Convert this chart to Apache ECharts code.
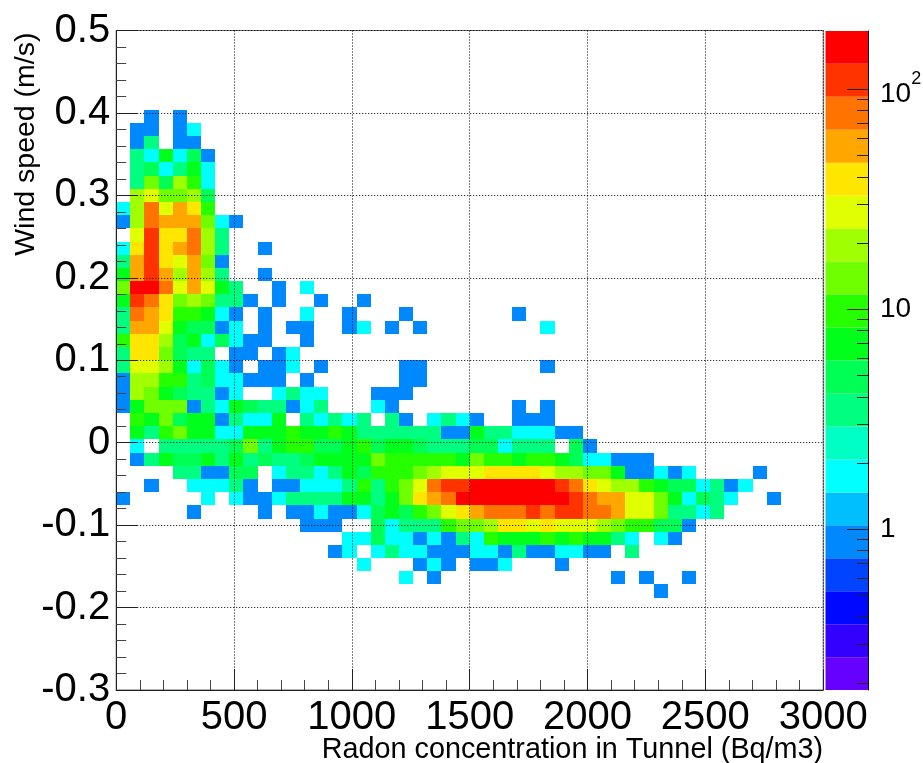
<!DOCTYPE html>
<html>
<head>
<meta charset="utf-8">
<style>html,body{margin:0;padding:0;background:#fff}#c{width:923px;height:763px}</style>
<script src="https://cdn.jsdelivr.net/npm/echarts@6/dist/echarts.min.js"></script>
</head>
<body>
<div id="c"></div>
<script>
// Histogram binning
const xRange = [0, 3000], yRange = [-0.3, 0.5];
const xBinWidth = 60, yBinWidth = 0.016, firstRowIndex = 6;
// Counts per x bin, one list per y row, from the top row (y≈0.40) downwards
const row06 = [0,0,1,0,1];
const row07 = [0,1,1,0,1,2];
const row08 = [0,1,3,0,1,1];
const row09 = [0,3,2,7,2,5,1];
const row10 = [0,3,5,2,3,7,2];
const row11 = [0,3,14,5,20,10,2];
const row12 = [0,20,28,14,14,20,5];
const row13 = [2,20,75,28,55,40,10];
const row14 = [1,20,75,55,55,55,14,2,1];
const row15 = [0,28,100,40,40,75,20,3];
const row16 = [2,40,100,40,55,75,20,3,0,0,1];
const row17 = [3,55,100,40,28,55,14,1];
const row18 = [7,55,100,55,20,55,20,3,0,0,1];
const row19 = [14,140,140,75,28,55,28,7,3,0,0,1,0,2];
const row20 = [7,100,75,40,14,20,14,3,3,1,0,1,0,0,1,0,0,1];
const row21 = [3,75,55,40,10,10,7,2,1,0,1,0,0,2,0,0,1,0,0,0,1,0,0,0,0,0,0,0,1];
const row22 = [3,55,55,28,7,5,5,1,2,0,1,0,1,1,0,0,1,2,0,1,0,1,0,0,0,0,0,0,0,0,2];
const row23 = [10,40,40,20,5,7,2,5,2,1,1,0,0,1];
const row24 = [3,40,40,14,5,3,3,0,1,1,0,1,2];
const row25 = [3,28,28,20,7,2,5,2,1,0,1,1,2,0,1,0,0,0,0,0,1,1,0,0,0,0,0,0,0,0,1];
const row26 = [1,20,20,10,10,3,5,2,2,1,1,1,0,1,0,0,0,0,0,0,1,1];
const row27 = [1,20,14,7,5,3,3,1,2,0,0,2,3,2,2,0,0,0,1,1,1];
const row28 = [1,7,14,14,14,1,3,2,7,5,3,3,1,2,3,0,0,0,2,1,0,0,0,0,0,0,0,0,1,0,1];
const row29 = [0,10,7,14,5,7,7,1,3,2,2,7,0,3,2,3,2,3,0,3,1,0,2,3,2,1,0,0,1,1,1];
const row30 = [0,7,3,10,14,7,7,2,2,7,7,7,10,7,7,10,7,3,3,3,3,3,3,1,1,7,3,3,2,2,2,1,1];
const row31 = [0,2,0,3,3,3,3,3,5,14,3,7,10,10,5,5,7,10,5,7,7,5,3,3,3,5,5,2,3,3,3,0,5,1];
const row32 = [0,1,3,7,5,5,7,3,7,3,5,3,3,5,7,7,7,7,14,10,10,10,10,10,7,14,10,10,7,10,10,7,5,2,2,1,1,1];
const row33 = [0,0,0,0,3,3,1,1,5,5,0,2,3,3,2,3,7,5,10,10,10,14,20,28,28,28,40,40,40,40,28,20,20,14,14,7,1,1,2,1,2,0,0,0,0,1];
const row34 = [0,0,1,0,0,2,2,2,3,1,0,1,1,2,2,2,3,10,3,10,14,28,75,100,100,140,140,140,140,140,140,100,75,40,28,20,20,10,7,5,5,2,3,1,2];
const row35 = [1,0,0,0,0,0,2,0,2,1,1,2,3,3,3,3,7,7,3,7,14,40,55,75,140,140,140,140,140,140,140,140,100,75,55,55,28,28,14,7,2,5,3,2,0,0,1];
const row36 = [0,0,0,0,0,1,0,0,0,0,1,0,1,1,2,1,1,2,5,7,5,10,14,28,40,55,75,75,75,100,75,100,100,75,75,55,28,28,14,3,3,2,3];
const row37 = [0,0,0,0,0,0,0,0,0,0,0,0,0,1,1,1,0,0,5,2,3,3,3,10,14,14,20,40,40,28,40,28,28,28,20,14,10,10,5,5,1];
const row38 = [0,0,0,0,0,0,0,0,0,0,0,0,0,0,0,0,2,2,5,2,2,1,2,1,3,2,10,7,7,7,10,7,10,7,7,3,2,0,2,1];
const row39 = [0,0,0,0,0,0,0,0,0,0,0,0,0,0,0,1,2,0,2,3,2,2,1,1,1,2,2,1,3,1,1,2,2,1,1,0,3];
const row40 = [0,0,0,0,0,0,0,0,0,0,0,0,0,0,0,0,0,2,0,0,0,1,2,1,0,1,1,2,0,0,0,1];
const row41 = [0,0,0,0,0,0,0,0,0,0,0,0,0,0,0,0,0,0,0,0,2,0,1,0,0,0,0,0,0,0,0,0,0,0,0,1,0,1,0,0,1];
const row42 = [0,0,0,0,0,0,0,0,0,0,0,0,0,0,0,0,0,0,0,0,0,0,0,0,0,0,0,0,0,0,0,0,0,0,0,0,0,0,1];
const rows = [row06,row07,row08,row09,row10,row11,row12,row13,row14,row15,row16,row17,row18,row19,row20,row21,row22,row23,row24,row25,row26,row27,row28,row29,row30,row31,row32,row33,row34,row35,row36,row37,row38,row39,row40,row41,row42];

// Colour scale: band edges (log spaced contour levels) and colours, low to high
const bandEdges = [0.186,0.262,0.370,0.523,0.738,1.042,1.471,2.077,2.933,4.141,5.848,8.26,11.66,16.46,23.25,32.8,46.4,65.5,92.4,130.5,184];
const bandColors = ['#6600ff','#3300ff','#0008ff','#0044ff','#0088ff','#00bfff','#00ffff','#00ffc4','#00ff80','#00ff55','#00ff1a','#26ff00','#6fff00','#a0ff00','#e0ff00','#ffe600','#ffa600','#ff7300','#ff3300','#ff0000'];
const xTickLabels = [0,500,1000,1500,2000,2500,3000];
const yTickLabels = [-0.3,-0.2,-0.1,0,0.1,0.2,0.3,0.4,0.5];
const zMajorTicks = [1,10,100];
const zMinorTicks = [0.2,0.3,0.4,0.5,0.6,0.7,0.8,0.9,2,3,4,5,6,7,8,9,20,30,40,50,60,70,80,90];

const font = 'Liberation Sans';
const cells = [];
rows.forEach((row, r) => row.forEach((count, c) => {
  if (count > 0) {
    cells.push([(c + 0.5) * xBinWidth, yRange[1] - (r + firstRowIndex + 0.5) * yBinWidth, count]);
  }
}));
function colorOf(v) {
  for (let i = 0; i < bandColors.length; i++) if (v < bandEdges[i + 1]) return bandColors[i];
  return bandColors[bandColors.length - 1];
}
const bandData = bandColors.map((col, i) => [bandEdges[i], bandEdges[i + 1], i]);

function renderCell(params, api) {
  const x = api.value(0), y = api.value(1);
  const p0 = api.coord([x - xBinWidth / 2, y + yBinWidth / 2]);
  const p1 = api.coord([x + xBinWidth / 2, y - yBinWidth / 2]);
  const l = Math.round(p0[0]), t = Math.round(p0[1]), r = Math.round(p1[0]), b = Math.round(p1[1]);
  return { type: 'rect', shape: { x: l, y: t, width: r - l, height: b - t }, style: { fill: colorOf(api.value(2)) } };
}
function renderBand(params, api) {
  const p0 = api.coord([0, api.value(1)]);
  const p1 = api.coord([1, api.value(0)]);
  return { type: 'rect', shape: { x: p0[0], y: p0[1], width: p1[0] - p0[0], height: p1[1] - p0[1] }, style: { fill: bandColors[api.value(2)] } };
}

const chart = echarts.init(document.getElementById('c'), null, { renderer: 'canvas' });
const dark = '#222';
chart.setOption({
  animation: false,
  backgroundColor: '#fff',
  textStyle: { fontFamily: font, color: '#000' },
  grid: [
    { left: 116.2, top: 30.5, width: 707, height: 659.5, show: true, borderColor: '#666', borderWidth: 1, backgroundColor: '#fff', outerBoundsMode: 'none', containLabel: false },
    { left: 825.5, top: 31, width: 42.5, height: 659, outerBoundsMode: 'none', containLabel: false }
  ],
  xAxis: [
    {
      type: 'value', gridIndex: 0, min: xRange[0], max: xRange[1], interval: 500, z: 5,
      name: 'Radon concentration in Tunnel (Bq/m3)', nameLocation: 'end', nameGap: 0, nameMoveOverlap: false,
      nameTextStyle: { fontFamily: font, fontSize: 28.8, color: '#000', align: 'right', verticalAlign: 'top', padding: [46, 0, 0, 0] },
      axisLine: { show: true, onZero: false, lineStyle: { color: dark, width: 1 } },
      axisTick: { show: true, inside: true, length: 21, lineStyle: { color: dark, width: 1 } },
      minorTick: { show: true, splitNumber: 5, length: 10, lineStyle: { color: '#444', width: 1 } },
      splitLine: { show: true, lineStyle: { color: '#000', width: 1, type: [1, 2] } },
      axisLabel: { fontFamily: font, fontSize: 40, color: '#000', margin: 8, hideOverlap: false,
        customValues: xTickLabels, showMinLabel: true, showMaxLabel: true, formatter: v => String(v) }
    },
    { type: 'value', gridIndex: 1, min: 0, max: 1, show: false }
  ],
  yAxis: [
    {
      type: 'value', gridIndex: 0, min: yRange[0], max: yRange[1], interval: 0.1, z: 5,
      name: 'Wind speed (m/s)', nameLocation: 'end', nameRotate: 90, nameGap: -2, nameMoveOverlap: false,
      nameTextStyle: { fontFamily: font, fontSize: 28.5, color: '#000', align: 'right', verticalAlign: 'bottom', padding: [0, 0, 76, 0] },
      axisLine: { show: true, onZero: false, lineStyle: { color: dark, width: 1 } },
      axisTick: { show: true, inside: true, length: 21, lineStyle: { color: dark, width: 1 } },
      minorTick: { show: true, splitNumber: 5, length: 10, lineStyle: { color: '#444', width: 1 } },
      splitLine: { show: true, lineStyle: { color: '#000', width: 1, type: [1, 2] } },
      axisLabel: { fontFamily: font, fontSize: 40, color: '#000', margin: 6, hideOverlap: false, padding: [4, 0, 0, 0],
        customValues: yTickLabels, showMinLabel: true, showMaxLabel: true,
        formatter: v => String(Math.round(v * 10) / 10) }
    },
    {
      type: 'log', gridIndex: 1, position: 'right', min: bandEdges[0], max: bandEdges[bandEdges.length - 1], logBase: 10, z: 5,
      axisLine: { show: true, onZero: false, lineStyle: { color: '#000', width: 1 } },
      axisTick: { show: true, inside: true, length: 21, customValues: zMajorTicks, lineStyle: { color: dark, width: 1 } },
      minorTick: { show: false },
      splitLine: { show: false },
      axisLabel: { show: true, inside: false, margin: 12, fontFamily: font, color: '#000', hideOverlap: false,
        customValues: zMajorTicks, align: 'left',
        formatter: v => v >= 99 ? '{a|10}{b|2}' : '{c|' + Math.round(v) + '}',
        rich: { a: { fontFamily: font, fontSize: 28, color: '#000', padding: [10, 0, 0, 0] },
                b: { fontFamily: font, fontSize: 18, color: '#000', padding: [0, 0, 20, 0] },
                c: { fontFamily: font, fontSize: 28, color: '#000' } } }
    },
    {
      type: 'log', gridIndex: 1, position: 'right', min: bandEdges[0], max: bandEdges[bandEdges.length - 1], logBase: 10, z: 5,
      axisLine: { show: false, onZero: false },
      axisTick: { show: true, inside: true, length: 11, customValues: zMinorTicks, lineStyle: { color: dark, width: 1 } },
      splitLine: { show: false },
      axisLabel: { show: false }
    }
  ],
  series: [
    {
      type: 'custom', name: 'Counts', xAxisIndex: 0, yAxisIndex: 0, z: 2, clip: true,
      coordinateSystem: 'cartesian2d', renderItem: renderCell, data: cells,
      encode: { x: 0, y: 1 }, silent: true
    },
    {
      type: 'custom', name: 'Palette', xAxisIndex: 1, yAxisIndex: 1, z: 2,
      coordinateSystem: 'cartesian2d', renderItem: renderBand, data: bandData, silent: true,
      encode: { y: [0, 1] }
    }
  ]
});
</script>
</body>
</html>
